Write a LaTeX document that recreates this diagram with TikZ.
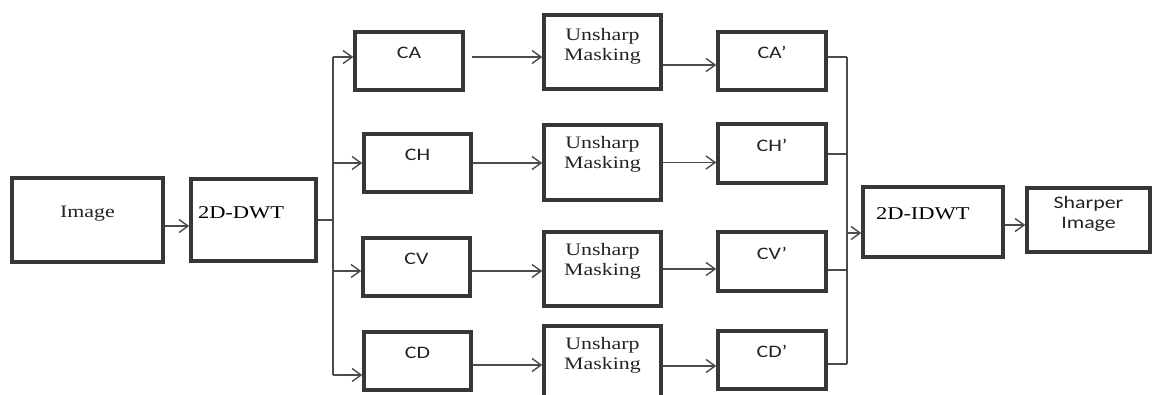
\documentclass[tikz,border=0pt]{standalone}
\usepackage{fontspec}
\setmainfont{Liberation Serif}[FakeStretch=1.25]
\setsansfont{Carlito}[FakeStretch=1.25]
\usepackage{tikz}
\usetikzlibrary{
  arrows.meta,
  positioning
}
\definecolor{BoxGray}{RGB}{55, 55, 55}
\definecolor{LineGray}{RGB}{75, 75, 75}
\definecolor{TextGray}{RGB}{35, 35, 35}
\tikzset{
    blk/.style={rectangle, draw=BoxGray, line width=3.5pt, inner sep=0pt, align=center,
        text=TextGray, font=\fontsize{17.5}{20}\selectfont},
    lift/.style={text depth=#1},
    coef/.style={blk, font=\sffamily\fontsize{17.5}{20}\selectfont, minimum width=108pt,
        minimum height=58pt, lift=17pt},
    usm/.style={blk, minimum width=117pt, minimum height=74pt, lift=15pt},
    wav/.style={blk, font=\fontsize{18}{21}\selectfont, align=left, text=black},
    ln/.style={draw=LineGray, line width=1.5pt},
    arr/.style={ln, -{Straight Barb[length=9pt, width=13pt, line width=1.4pt]}}
}

\begin{document}
\begin{tikzpicture}[x=1pt, y=-1pt]
    \useasboundingbox (0,0) rectangle (1154,394);

    % input side
    \node[blk, minimum width=151pt, minimum height=84pt, lift=16pt] (img) at (87.5,220) {Image};
    \node[wav, minimum height=82pt, inner xsep=7pt, text width=111pt, lift=14pt] (dwt) at (253.5,220) {2D-DWT};

    % sub-bands
    \node[coef] (ca) at (409,61) {CA};
    \node[coef, minimum width=107pt] (ch) at (417.5,163) {CH};
    \node[coef, minimum width=107pt] (cv) at (416.5,267) {CV};
    \node[coef, minimum width=107pt] (cd) at (417.5,361) {CD};

    % unsharp masking
    \node[usm] (um1) at (602.5,52) {Unsharp\\Masking};
    \node[usm, minimum height=75pt, lift=20pt] (um2) at (602.5,162.5) {Unsharp\\Masking};
    \node[usm, lift=20pt] (um3) at (602.5,269) {Unsharp\\Masking};
    \node[usm, lift=20pt] (um4) at (602.5,363) {Unsharp\\Masking};

    % sharpened sub-bands
    \node[coef] (caP) at (772,61) {CA’};
    \node[coef, minimum height=59pt] (chP) at (772,153.5) {CH’};
    \node[coef, minimum height=59pt] (cvP) at (772,261.5) {CV’};
    \node[coef] (cdP) at (772,360) {CD’};

    % output side
    \node[wav, minimum height=70pt, inner xsep=13pt, text width=114pt, lift=16pt] (idwt) at (933,222) {2D-IDWT};
    \node[blk, font=\sffamily\fontsize{17.5}{20}\selectfont, minimum width=123pt, minimum height=64pt, lift=16pt] (sharp) at (1088.5,220) {Sharper\\Image};

    % bus points
    \coordinate (s1) at (333,57);
    \coordinate (s2) at (333,163);
    \coordinate (s3) at (333,271);
    \coordinate (s4) at (333,375);
    \coordinate (r1) at (847,57);
    \coordinate (r2) at (847,154);
    \coordinate (r3) at (847,270);
    \coordinate (r4) at (847,364);
    \coordinate (rIn) at (847,233);

    \draw[arr] ([yshift=-6pt]img.east) -- ([yshift=-6pt]img.east -| dwt.west);
    \draw[ln] (dwt.east) -- (dwt.east -| s1);
    \draw[ln] (s1) -- (s4);
    \draw[arr] (s1) -- (s1 -| ca.west);
    \draw[arr] (s2) -- (s2 -| ch.west);
    \draw[arr] (s3) -- (s3 -| cv.west);
    \draw[arr] (s4) -- (s4 -| cd.west);

    \draw[arr] ([xshift=7pt]ca.east |- s1) -- (um1.west |- s1);
    \draw[arr] (ch.east |- s2) -- (um2.west |- s2);
    \draw[arr] (cv.east |- s3) -- (um3.west |- s3);
    \draw[arr] ([yshift=-4pt]cd.east) -- ([yshift=-4pt]cd.east -| um4.west);

    \draw[arr] ([yshift=-13pt]um1.east) -- ([yshift=-13pt]um1.east -| caP.west);
    \draw[arr] (um2.east) -- (um2.east -| chP.west);
    \draw[arr] (um3.east) -- (um3.east -| cvP.west);
    \draw[arr] ([yshift=-3pt]um4.east) -- ([yshift=-3pt]um4.east -| cdP.west);

    \draw[ln] (caP.east |- r1) -- (r1);
    \draw[ln] (chP.east |- r2) -- (r2);
    \draw[ln] (cvP.east |- r3) -- (r3);
    \draw[ln] (cdP.east |- r4) -- (r4);
    \draw[ln] (r1) -- (r4);
    \draw[arr] (rIn) -- (rIn -| idwt.west);
    \draw[arr] ([yshift=-3pt]idwt.east) -- ([yshift=-3pt]idwt.east -| sharp.west);
\end{tikzpicture}
\end{document}
